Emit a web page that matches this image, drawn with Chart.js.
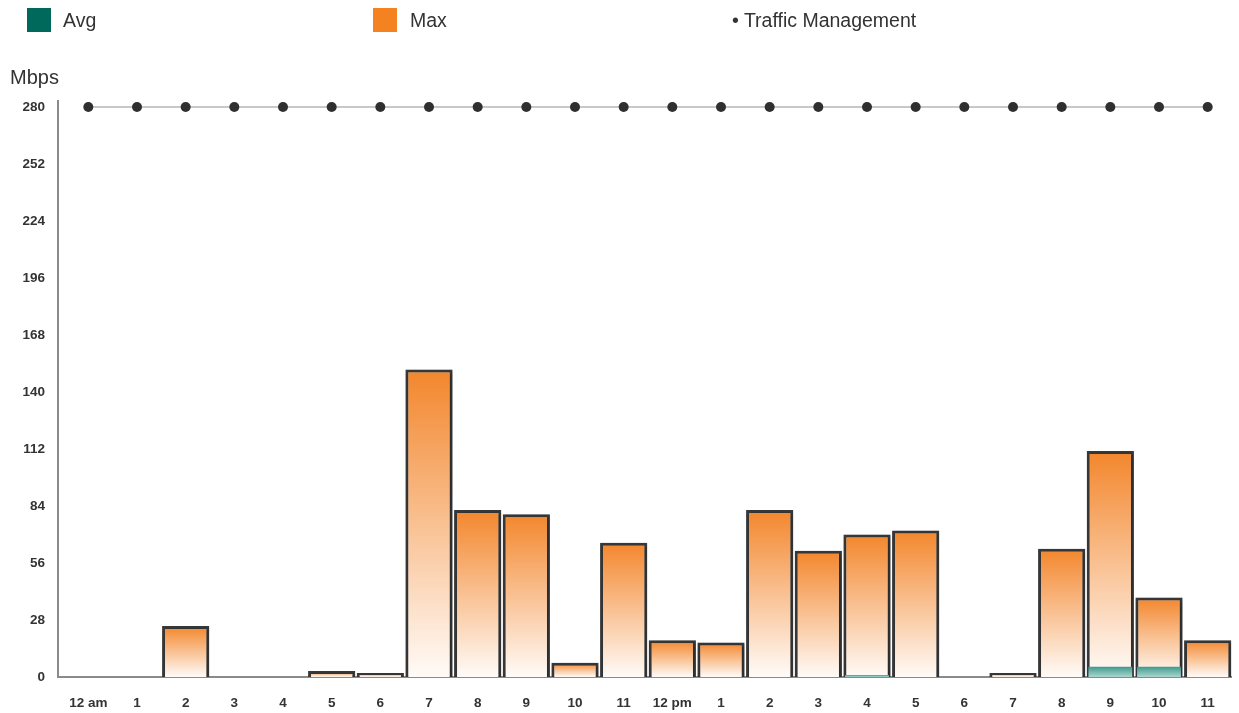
<!DOCTYPE html>
<html>
<head>
<meta charset="utf-8">
<script src="https://cdn.jsdelivr.net/npm/chart.js@4/dist/chart.umd.min.js"></script>
<style>
  body { margin: 0; background: #fff; font-family: "Liberation Sans", Arial, sans-serif; }
  #wrap { position: relative; width: 1239px; height: 713px; }
  #chart { position: absolute; left: 0; top: 0; }
  .leg { position: absolute; top: 8px; font-size: 19.5px; color: #333; line-height: 24px; }
  .sw { position: absolute; top: 8px; width: 24px; height: 24px; }
  #unit { position: absolute; left: 10px; top: 66px; font-size: 20px; color: #333; }
</style>
</head>
<body>
<div id="wrap">
  <canvas id="chart" width="1239" height="713"></canvas>
  <div class="sw" style="left:27px;background:#00695c"></div>
  <div class="leg" style="left:63px">Avg</div>
  <div class="sw" style="left:373px;background:#f58220"></div>
  <div class="leg" style="left:410px">Max</div>
  <div class="leg" style="left:732px">• Traffic Management</div>
  <div id="unit">Mbps</div>
</div>
<script>
const hours = ['12 am', '1', '2', '3', '4', '5', '6', '7', '8', '9', '10', '11',
  '12 pm', '1', '2', '3', '4', '5', '6', '7', '8', '9', '10', '11'];
const maxMbps = [0, 0, 25, 0, 0, 3, 2, 151, 82, 80, 7, 66, 18, 17, 82, 62, 70, 72, 0, 2, 63, 111, 39, 18];
const avgMbps = [0, 0, 0, 0, 0, 0, 0, 0, 0, 0, 0, 0, 0, 0, 0, 0, 1, 0, 0, 0, 0, 5, 5, 0];
const trafficLimit = hours.map(() => 280);
const yTicks = [0, 28, 56, 84, 112, 140, 168, 196, 224, 252, 280];

// gradient for each bar, from its top down to the baseline
function barFill(top, bottom) {
  return (c) => {
    const chart = c.chart;
    if (!chart.chartArea || c.raw == null) return top;
    const y = chart.scales.y;
    const y0 = y.getPixelForValue(c.raw);
    const y1 = y.getPixelForValue(0);
    if (y1 - y0 < 1) return top;
    const g = chart.ctx.createLinearGradient(0, y0, 0, y1);
    g.addColorStop(0, top);
    g.addColorStop(1, bottom);
    return g;
  };
}

// axis lines sit a little left of the first category
const axisLines = {
  id: 'axisLines',
  beforeDatasetsDraw(chart) {
    const ctx = chart.ctx;
    const a = chart.chartArea;
    ctx.save();
    ctx.strokeStyle = '#8a8a8a';
    ctx.lineWidth = 2;
    ctx.beginPath();
    ctx.moveTo(58, a.top - 7);
    ctx.lineTo(58, a.bottom);
    ctx.lineTo(a.right, a.bottom);
    ctx.stroke();
    ctx.restore();
  }
};

// soft shadow under the max bars
const barShadow = {
  id: 'barShadow',
  beforeDatasetDraw(chart, args) {
    if (args.index !== 1) return;
    const ctx = chart.ctx;
    ctx.save();
    ctx.shadowColor = 'rgba(0,0,0,0.35)';
    ctx.shadowBlur = 4;
    ctx.shadowOffsetX = 1;
    ctx.shadowOffsetY = 1;
  },
  afterDatasetDraw(chart, args) {
    if (args.index !== 1) return;
    chart.ctx.restore();
  }
};

const tickFont = { family: '"Liberation Sans", Arial, sans-serif', size: 13.5, weight: 'bold' };

new Chart(document.getElementById('chart'), {
  type: 'bar',
  data: {
    labels: hours,
    datasets: [
      {
        label: 'Avg',
        data: avgMbps,
        order: 0,
        grouped: false,
        backgroundColor: barFill('#3f9a8e', '#a9d6cf'),
        borderWidth: 0,
        barPercentage: 0.9,
        categoryPercentage: 1
      },
      {
        label: 'Max',
        data: maxMbps,
        order: 1,
        grouped: false,
        backgroundColor: barFill('#f3862c', '#fffbf8'),
        borderColor: '#383838',
        borderWidth: 3,
        barPercentage: 0.97,
        categoryPercentage: 1
      },
      {
        type: 'line',
        label: 'Traffic Management',
        data: trafficLimit,
        order: -1,
        borderColor: '#c8c8c8',
        borderWidth: 2,
        pointRadius: 5,
        pointBackgroundColor: '#2f2f2f',
        pointBorderColor: '#2f2f2f',
        pointBorderWidth: 0,
        clip: false
      }
    ]
  },
  options: {
    responsive: false,
    animation: false,
    layout: { padding: { top: 107, right: 7, left: 0, bottom: 0 } },
    plugins: { legend: { display: false }, tooltip: { enabled: false } },
    scales: {
      x: {
        grid: { display: false, drawTicks: false },
        border: { display: false },
        ticks: { color: '#333', padding: 18, maxRotation: 0, autoSkip: false, font: tickFont },
        afterFit(s) { s.height = 36; }
      },
      y: {
        min: 0,
        max: 280,
        grid: { display: false, drawTicks: false },
        border: { display: false },
        afterBuildTicks(s) { s.ticks = yTicks.map(v => ({ value: v })); },
        ticks: { color: '#333', padding: 19, font: tickFont },
        afterFit(s) { s.width = 64; }
      }
    }
  },
  plugins: [axisLines, barShadow]
});
</script>
</body>
</html>
